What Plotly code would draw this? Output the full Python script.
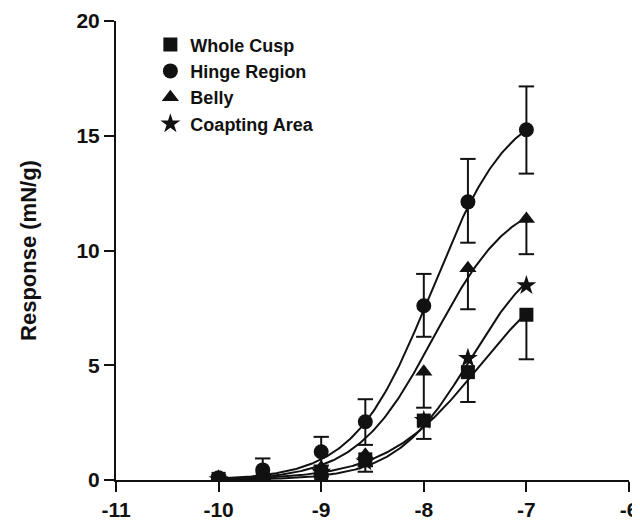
import numpy as np
import plotly.graph_objects as go

# log molar concentration
log_conc = [-10.0, -9.57, -9.0, -8.57, -8.0, -7.57, -7.0]

series_names = ["Whole Cusp", "Hinge Region", "Belly", "Coapting Area"]

whole_cusp = [0.05, 0.10, 0.30, 0.90, 2.59, 4.70, 7.20]
hinge_region = [0.10, 0.44, 1.23, 2.54, 7.59, 12.12, 15.26]
belly = [0.05, 0.15, 0.55, 1.10, 4.72, 9.23, 11.37]
coapting_area = [0.02, 0.05, 0.35, 0.80, 2.60, 5.31, 8.47]

# error bars (SEM): upward and downward
whole_cusp_up = [0, 0, 0, 0, 0, 0, 0]
whole_cusp_down = [0, 0.05, 0.15, 0.54, 0.80, 1.30, 1.94]
hinge_up = [0.10, 0.50, 0.65, 0.98, 1.39, 1.87, 1.89]
hinge_down = [0.10, 0.40, 0.60, 1.01, 1.35, 1.78, 1.91]
belly_up = [0, 0, 0, 0, 0, 0, 0]
belly_down = [0, 0.10, 0.30, 0.50, 1.57, 1.79, 1.53]
coapting_up = [0, 0, 0, 0, 0, 0, 0]
coapting_down = [0, 0, 0, 0, 0, 0, 0]

# sigmoidal fit parameters (top, logEC50, hill slope)
fit_top = [10.0, 16.6, 12.5, 10.5]
fit_logec50 = [-7.45, -7.92, -7.90, -7.55]
fit_slope = [0.95, 1.15, 1.15, 1.20]

x_ticks = [-11, -10, -9, -8, -7, -6]
y_ticks = [0, 5, 10, 15, 20]

values = [whole_cusp, hinge_region, belly, coapting_area]
ups = [whole_cusp_up, hinge_up, belly_up, coapting_up]
downs = [whole_cusp_down, hinge_down, belly_down, coapting_down]
symbols = ["square", "circle", "triangle-up", "star"]
sizes = [14, 15, 15, 15]

INK = "#111111"
FONT = "Liberation Sans, Arial, sans-serif"

fig = go.Figure()

# error bars
cap = 0.075
for vals, up, dn in zip(values, ups, downs):
    ex, ey = [], []
    for x, y, u, d in zip(log_conc, vals, up, dn):
        if u > 0:
            ex += [x, x, None, x - cap, x + cap, None]
            ey += [y, y + u, None, y + u, y + u, None]
        if d > 0:
            ex += [x, x, None, x - cap, x + cap, None]
            ey += [y, y - d, None, y - d, y - d, None]
    fig.add_trace(go.Scatter(x=ex, y=ey, mode="lines", line=dict(color=INK, width=2),
                             showlegend=False, hoverinfo="skip"))

# fitted curves
xc = np.linspace(log_conc[0], log_conc[-1], 200)
for top, ec, n in zip(fit_top, fit_logec50, fit_slope):
    yc = top / (1 + 10 ** ((ec - xc) * n))
    fig.add_trace(go.Scatter(x=xc, y=yc, mode="lines", line=dict(color=INK, width=2),
                             showlegend=False, hoverinfo="skip"))

# data markers
for name, vals, sym, sz in zip(series_names, values, symbols, sizes):
    fig.add_trace(go.Scatter(x=log_conc, y=vals, mode="markers", name=name,
                             marker=dict(symbol=sym, size=sz, color=INK,
                                         line=dict(width=0))))

# the page body has an 8px default margin, so the figure is sized to fit the window
fig.update_layout(
    width=632, height=517,
    margin=dict(l=108, r=11, t=13, b=45),
    paper_bgcolor="white", plot_bgcolor="white",
    font=dict(family=FONT, color=INK),
    showlegend=True,
    legend=dict(x=0.067, y=0.9885, xanchor="left", yanchor="top",
                font=dict(family=FONT, size=18, weight="bold", color=INK),
                bgcolor="rgba(0,0,0,0)", tracegroupgap=0, itemwidth=30),
    xaxis=dict(range=[-11, -6], tickvals=x_ticks, ticktext=[str(v) for v in x_ticks],
               automargin=False, ticklabeloverflow="allow",
               showgrid=False, zeroline=False, showline=True, linecolor=INK, linewidth=2,
               ticks="outside", ticklen=10, tickwidth=2, tickcolor=INK,
               tickfont=dict(family=FONT, size=21, weight="bold", color=INK)),
    yaxis=dict(range=[0, 20], tickvals=y_ticks, showgrid=False, zeroline=False,
               automargin=False,
               showline=True, linecolor=INK, linewidth=2,
               ticks="outside", ticklen=10, tickwidth=2, tickcolor=INK,
               tickfont=dict(family=FONT, size=21, weight="bold", color=INK),
               title=dict(text="Response (mN/g)", standoff=34,
                          font=dict(family=FONT, size=22, weight="bold", color=INK))),
)

fig.write_html("out.html",
               post_script="document.body.style.overflow='hidden';"
                           "document.documentElement.style.overflow='hidden';")
